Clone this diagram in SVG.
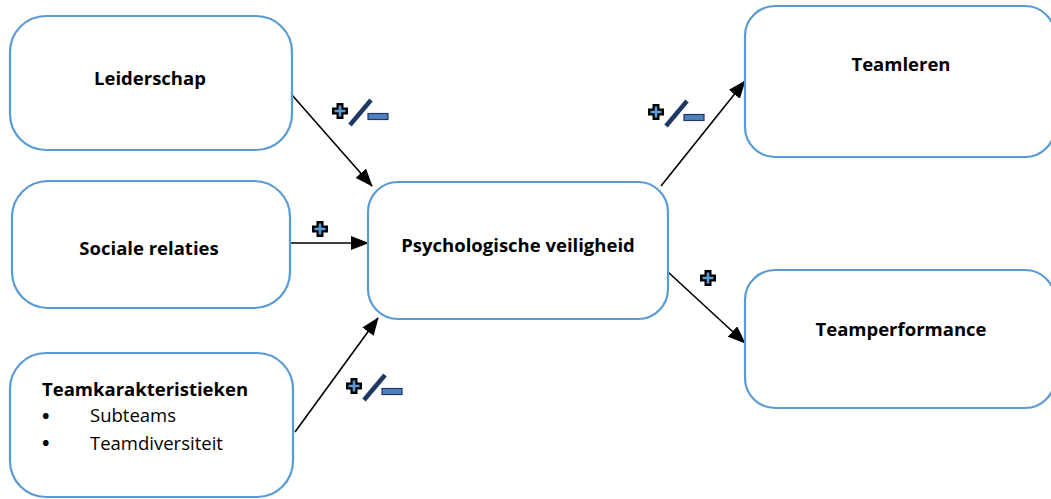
<svg xmlns="http://www.w3.org/2000/svg" xmlns:xlink="http://www.w3.org/1999/xlink" width="1051" height="499" viewBox="0 0 1051 499">
<style>
.box{fill:#fff;stroke:#5b9bd5;stroke-width:2.2}
.t{font-family:"Open Sans",sans-serif;font-weight:bold;font-size:18.5px;fill:#000;text-anchor:middle}
.n{font-family:"Open Sans",sans-serif;font-size:18.5px;fill:#000}
.b{font-family:"Open Sans",sans-serif;font-weight:bold;font-size:20px;fill:#000}
.c{stroke:#000;stroke-width:1.6;fill:none;marker-end:url(#ah)}
</style>
<defs>
<marker id="ah" markerWidth="18" markerHeight="14" refX="17" refY="7" orient="auto" markerUnits="userSpaceOnUse">
<path d="M0,0 L18,7 L0,14 Z" fill="#000"/>
</marker>
<g id="plus">
<path d="M-3.5,-8 H3.5 V-3.5 H8 V3.5 H3.5 V8 H-3.5 V3.5 H-8 V-3.5 H-3.5 Z" fill="#000"/>
<path d="M0,-5.5 V5.5 M-5.5,0 H5.5" stroke="#5b9bd5" stroke-width="2.6"/>
</g>
<g id="pm">
<use xlink:href="#plus"/>
<path d="M10,14 L31,-11" stroke="#203864" stroke-width="4.5"/>
<rect x="28" y="2.5" width="20" height="6" fill="#4f81bd" stroke="#203864" stroke-width="1.2"/>
</g>
</defs>
<g id="connectors">
<line class="c" x1="292" y1="95" x2="372" y2="186"/>
<line class="c" x1="290" y1="243" x2="368" y2="243"/>
<line class="c" x1="295" y1="432" x2="378" y2="318"/>
<line class="c" x1="661" y1="186" x2="745" y2="81"/>
<line class="c" x1="668" y1="272" x2="745" y2="343"/>
</g>
<g id="signs">
<use xlink:href="#pm" x="340" y="111"/>
<use xlink:href="#plus" x="320" y="229"/>
<use xlink:href="#pm" x="656" y="112"/>
<use xlink:href="#plus" x="708" y="278"/>
<use xlink:href="#pm" x="354" y="386"/>
</g>
<g id="leiderschap"><rect class="box" x="10" y="16" width="282" height="134" rx="36"/><text class="t" x="150" y="85">Leiderschap</text></g>
<g id="sociale-relaties"><rect class="box" x="12" y="181" width="278" height="127" rx="36"/><text class="t" x="149" y="255">Sociale relaties</text></g>
<g id="teamkarakteristieken"><rect class="box" x="10" y="353" width="283" height="144" rx="36"/>
<text class="t" x="42" y="396" style="text-anchor:start">Teamkarakteristieken</text>
<text class="b" x="42" y="423">•</text><text class="n" x="90" y="422">Subteams</text>
<text class="b" x="42" y="450">•</text><text class="n" x="90" y="450">Teamdiversiteit</text>
</g>
<g id="psychologische-veiligheid"><rect class="box" x="368" y="182" width="300" height="137" rx="30"/><text class="t" x="518" y="252">Psychologische veiligheid</text></g>
<g id="teamleren"><rect class="box" x="745" y="6" width="310" height="151" rx="30"/><text class="t" x="901" y="71">Teamleren</text></g>
<g id="teamperformance"><rect class="box" x="745" y="270" width="310" height="138" rx="30"/><text class="t" x="901" y="336">Teamperformance</text></g>
</svg>
